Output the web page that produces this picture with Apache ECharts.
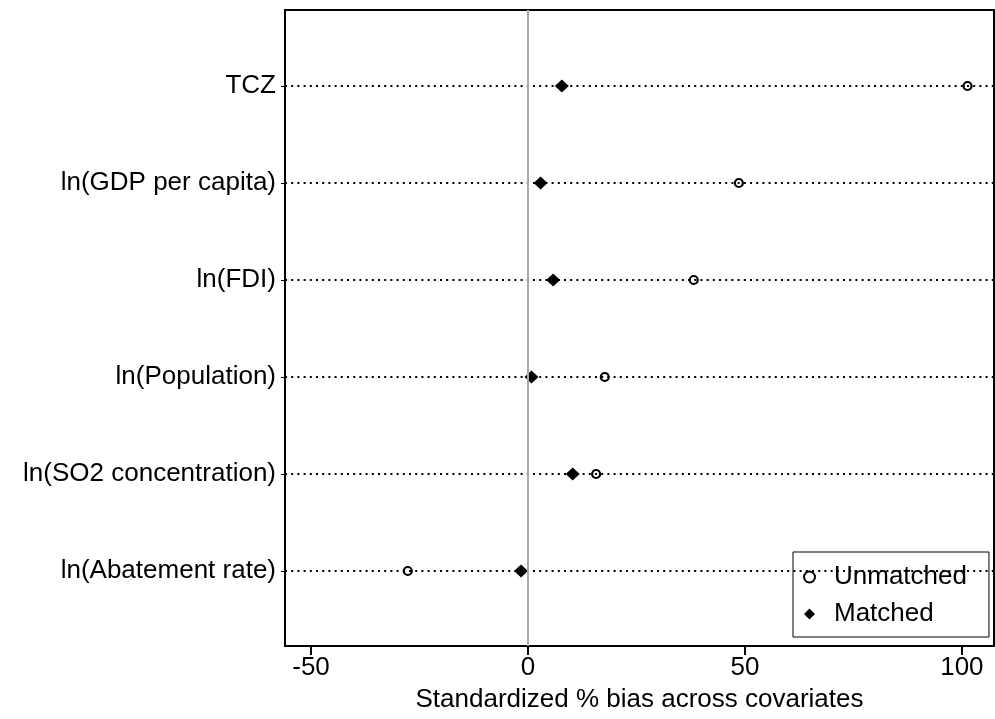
<!DOCTYPE html>
<html>
<head>
<meta charset="utf-8">
<script src="https://cdn.jsdelivr.net/npm/echarts@6/dist/echarts.min.js"></script>
<style>
  html, body { margin: 0; padding: 0; background: #ffffff; }
  #chart { width: 995px; height: 719px; }
</style>
</head>
<body>
<div id="chart"></div>
<script>
// Covariates, listed top to bottom
const covariates = [
  'TCZ',
  'ln(GDP per capita)',
  'ln(FDI)',
  'ln(Population)',
  'ln(SO2 concentration)',
  'ln(Abatement rate)'
];
// Row position of each covariate on the vertical axis
const rowIndex = [1, 2, 3, 4, 5, 6];
// Standardized % bias before and after matching
const unmatchedBias = [101.3, 48.6, 38.2, 17.7, 15.7, -27.7];
const matchedBias   = [7.8, 2.9, 5.8, 0.8, 10.3, -1.6];
// Horizontal axis tick labels
const xTicks = [-50, 0, 50, 100];

const FONT = 'Arial, "Liberation Sans", Helvetica, sans-serif';

const chart = echarts.init(document.getElementById('chart'), null, { renderer: 'canvas' });

const option = {
  animation: false,
  backgroundColor: '#ffffff',
  textStyle: { fontFamily: FONT, color: '#000' },
  grid: {
    left: 285, right: 1, top: 10, bottom: 73,
    show: true, borderColor: '#000', borderWidth: 2, backgroundColor: '#ffffff'
  },
  legend: {
    orient: 'vertical',
    left: 793, top: 552,
    padding: [12, 22, 10, 10],
    itemGap: 11,
    itemWidth: 11, itemHeight: 11,
    borderColor: '#000', borderWidth: 1,
    backgroundColor: '#ffffff',
    textStyle: { fontFamily: FONT, fontSize: 26, color: '#000', padding: [0, 0, 0, 14] },
    data: ['Unmatched', 'Matched']
  },
  xAxis: {
    type: 'value',
    min: -56, max: 107.4,
    name: 'Standardized % bias across covariates',
    nameLocation: 'middle',
    nameGap: 41,
    nameTextStyle: { fontFamily: FONT, fontSize: 26, color: '#000' },
    axisLine: { show: true, onZero: false, lineStyle: { color: '#000', width: 2 } },
    axisTick: { show: true, length: 9, lineStyle: { color: '#000', width: 2 }, customValues: xTicks },
    axisLabel: { fontFamily: FONT, fontSize: 26, color: '#000', margin: 9, customValues: xTicks },
    splitLine: { show: false }
  },
  yAxis: {
    type: 'value',
    inverse: true,
    min: 0.21649, max: 6.77319,
    axisLine: { show: true, onZero: false, lineStyle: { color: '#000', width: 2 } },
    axisTick: { show: true, length: 4, lineStyle: { color: '#000', width: 1 }, customValues: rowIndex },
    axisLabel: {
      fontFamily: FONT, fontSize: 26, color: '#000', margin: 9,
      customValues: rowIndex,
      formatter: function (v) { return covariates[Math.round(v) - 1] || ''; }
    },
    splitLine: { show: false }
  },
  series: [
    {
      // Reference lines: dotted row guides and the zero line
      name: 'guides',
      type: 'line',
      data: [],
      silent: true,
      z: 1,
      markLine: {
        silent: true,
        symbol: ['none', 'none'],
        label: { show: false },
        lineStyle: { color: '#000', width: 2, type: [2, 4.2], opacity: 1 },
        emphasis: { disabled: true },
        data: rowIndex.map(function (r) { return { yAxis: r }; }).concat([
          { xAxis: 0, lineStyle: { color: '#aaaaaa', width: 2, type: 'solid' } }
        ])
      }
    },
    {
      name: 'Unmatched',
      type: 'scatter',
      z: 3,
      symbol: 'circle',
      symbolSize: 8,
      itemStyle: { color: 'rgba(255,255,255,0)', borderColor: '#000', borderWidth: 2.2, opacity: 1 },
      data: unmatchedBias.map(function (v, i) { return [v, rowIndex[i]]; })
    },
    {
      name: 'Matched',
      type: 'scatter',
      z: 4,
      symbol: 'diamond',
      symbolSize: [14, 13],
      itemStyle: { color: '#000', opacity: 1 },
      data: matchedBias.map(function (v, i) { return [v, rowIndex[i]]; })
    }
  ]
};

chart.setOption(option);
</script>
</body>
</html>
